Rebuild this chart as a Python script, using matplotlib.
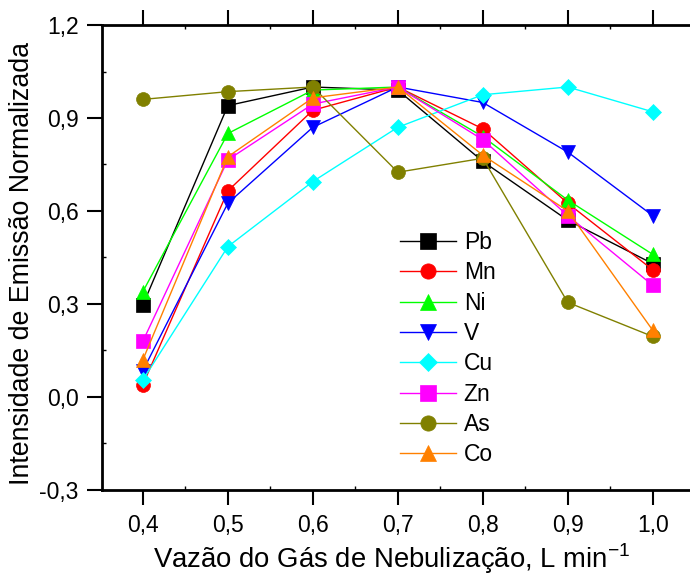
import numpy as np
import matplotlib
matplotlib.use('Agg')
import matplotlib.pyplot as plt
from matplotlib.ticker import MultipleLocator, FuncFormatter

plt.rcParams['font.family'] = ['Liberation Sans', 'DejaVu Sans']

vazao = [0.4, 0.5, 0.6, 0.7, 0.8, 0.9, 1.0]
Pb = [0.297, 0.94, 1.0, 0.99, 0.76, 0.57, 0.43]
Mn = [0.04, 0.665, 0.925, 1.0, 0.865, 0.625, 0.41]
Ni = [0.34, 0.85, 0.99, 1.0, 0.84, 0.635, 0.46]
V = [0.085, 0.625, 0.87, 1.0, 0.95, 0.79, 0.585]
Cu = [0.055, 0.485, 0.695, 0.87, 0.975, 1.0, 0.92]
Zn = [0.18, 0.765, 0.945, 1.0, 0.83, 0.585, 0.36]
As = [0.96, 0.985, 1.0, 0.725, 0.77, 0.305, 0.195]
Co = [0.12, 0.775, 0.965, 1.0, 0.78, 0.6, 0.215]

series = [('Pb', Pb, 'k', 's'), ('Mn', Mn, '#FF0000', 'o'), ('Ni', Ni, '#00FF00', '^'),
          ('V', V, '#0000FF', 'v'), ('Cu', Cu, '#00FFFF', 'D'), ('Zn', Zn, '#FF00FF', 's'),
          ('As', As, '#808000', 'o'), ('Co', Co, '#FF8000', '^')]

fig = plt.figure(figsize=(6.9, 5.75), dpi=100)
# right spine falls just outside the picture, as in the original
ax = fig.add_axes([0.148, 0.148, 0.862, 0.8085])

for nome, y, cor, mk in series:
    ms = 8 if mk == 'D' else 10
    ax.plot(vazao, y, color=cor, marker=mk, markersize=ms, markeredgecolor=cor,
            markeredgewidth=0.5, lw=1, label=nome)

ax.set_xlim(0.352, 1.052)
ax.set_ylim(-0.3, 1.2)
ax.xaxis.set_major_locator(MultipleLocator(0.1))
ax.xaxis.set_minor_locator(MultipleLocator(0.05))
ax.yaxis.set_major_locator(MultipleLocator(0.3))
ax.yaxis.set_minor_locator(MultipleLocator(0.15))
fmt = FuncFormatter(lambda v, p: ('%.1f' % v).replace('.', ','))
ax.xaxis.set_major_formatter(fmt)
ax.yaxis.set_major_formatter(fmt)
ax.tick_params(which='major', direction='out', length=11, width=1.5, labelsize=16.5, pad=6)
ax.tick_params(which='minor', direction='in', length=3, width=1)
ax.tick_params(axis='x', which='both', top=True)
ax.tick_params(axis='x', which='major', labeltop=False)
for s in ax.spines.values():
    s.set_linewidth(2)

ax.set_xlabel('Vazão do Gás de Nebulização, L min$^{\\mathregular{-1}}$', fontsize=19.8)
ax.set_ylabel('Intensidade de Emissão Normalizada', fontsize=19.3)
ax.xaxis.set_label_coords(0.486, -0.11)
ax.yaxis.set_label_coords(-0.113, 0.487)

ax.legend(loc='upper left', bbox_to_anchor=(0.50, 0.557), frameon=False, fontsize=16.5,
          handlelength=2.45, labelspacing=0.32, handletextpad=0.35, borderpad=0,
          borderaxespad=0, markerscale=1.1)

fig.savefig('out.png', dpi=100)
